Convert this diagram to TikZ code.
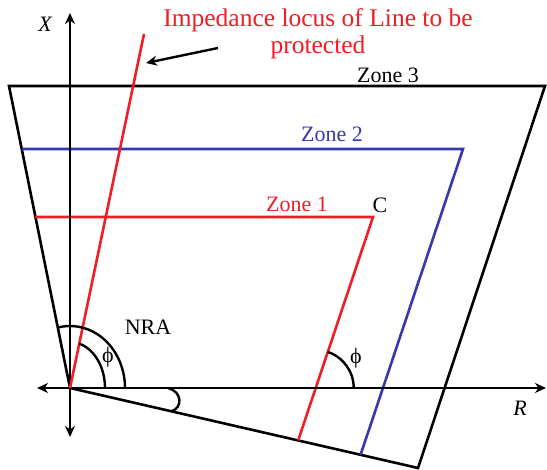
\documentclass[tikz,border=0pt]{standalone}
\usepackage{fontspec}
\setmainfont{Liberation Serif}
\usetikzlibrary{arrows.meta,calc}
\definecolor{zred}{RGB}{238,30,36}
\definecolor{zblue}{RGB}{55,55,175}
\tikzset{
  axisline/.style={line width=2.6pt,black},
  blackline/.style={line width=2.6pt,black,line join=miter},
  redline/.style={line width=2.6pt,zred},
  blueline/.style={line width=2.6pt,zblue},
  anglearc/.style={line width=2.4pt,black},
  tip/.style={-{Stealth[length=11pt,width=10pt,inset=3.5pt]}},
  lbl/.style={font=\fontsize{22}{25}\selectfont,inner sep=0pt},
  ttl/.style={font=\fontsize{25.5}{28}\selectfont,text=zred,inner sep=0pt}
}
\begin{document}
\begin{tikzpicture}[x=1pt,y=1pt]
\useasboundingbox (0,0) rectangle (547,470);
% key points
\coordinate (O) at (70,82);
\coordinate (Xtop) at (70,457);
\coordinate (Xbot) at (70,33);
\coordinate (Rleft) at (37,82);
\coordinate (Rright) at (546,82);
\coordinate (Z3TL) at (9,384);
\coordinate (Z3TR) at (545,384);
\coordinate (Z3BR) at (418,2);
\coordinate (Z2L) at (22,321);
\coordinate (Z2C) at (463,321);
\coordinate (Z2D) at ($(Z2C)+(-134,-400)$);
\coordinate (Z2B) at (intersection of O--Z3BR and Z2C--Z2D);
\coordinate (Z1L) at (35,253);
\coordinate (Z1C) at (373,253);
\coordinate (Z1D) at ($(Z1C)+(-134,-400)$);
\coordinate (Z1B) at (intersection of O--Z3BR and Z1C--Z1D);
\coordinate (Z1R) at (intersection of Rleft--Rright and Z1C--Z1D);
\coordinate (LocTop) at (144,436);
\coordinate (ArrS) at (218,422);
\coordinate (ArrE) at (146,407);
\coordinate (H1) at (168,82);
\coordinate (H2) at (172,59);

% zone 3
\draw[blackline] (O) -- (Z3TL) -- (Z3TR) -- (Z3BR) -- cycle;
% zone 2
\draw[blueline] (Z2L) -- (Z2C) -- (Z2B);
% zone 1
\draw[redline] (Z1L) -- (Z1C) -- (Z1B);
% axes
\draw[axisline,tip] (O) -- (Xtop);
\draw[axisline,tip] (O) -- (Xbot);
\draw[axisline,tip] (O) -- (Rleft);
\draw[axisline,tip] (O) -- (Rright);
% impedance locus
\draw[redline] (O) -- (LocTop);
\draw[line width=2.4pt,tip] (ArrS) -- (ArrE);
% angle arcs
\draw[anglearc] ($(O)+(55,0)$) arc[start angle=0,end angle=102.7,x radius=55,y radius=62];
\draw[anglearc] ($(O)+(35,0)$) arc[start angle=0,end angle=74.6,x radius=35,y radius=46];
\draw[anglearc] ($(Z1R)+(38,0)$) arc[start angle=0,end angle=71.5,radius=38];
\draw[anglearc] (H1) .. controls (183,78) and (182,62) .. (H2);

% labels
\node[ttl] (t1) at (318,450) {Impedance locus of Line to be};
\node[ttl] (t2) at (318,423) {protected};
\node[lbl] (lx) at (45,446) {\itshape X};
\node[lbl] (lr) at (520,62) {\itshape R};
\node[lbl] (z3) at (388,395) {Zone 3};
\node[lbl,text=zblue] (z2) at (332,336) {Zone 2};
\node[lbl,text=zred] (z1) at (297,266) {Zone 1};
\node[lbl] (lc) at (380,265) {C};
\node[lbl] (nra) at (148,143) {NRA};
\node[lbl] (ph1) at (108,113) {ϕ};
\node[lbl] (ph2) at (356,112) {ϕ};
\end{tikzpicture}
\end{document}
